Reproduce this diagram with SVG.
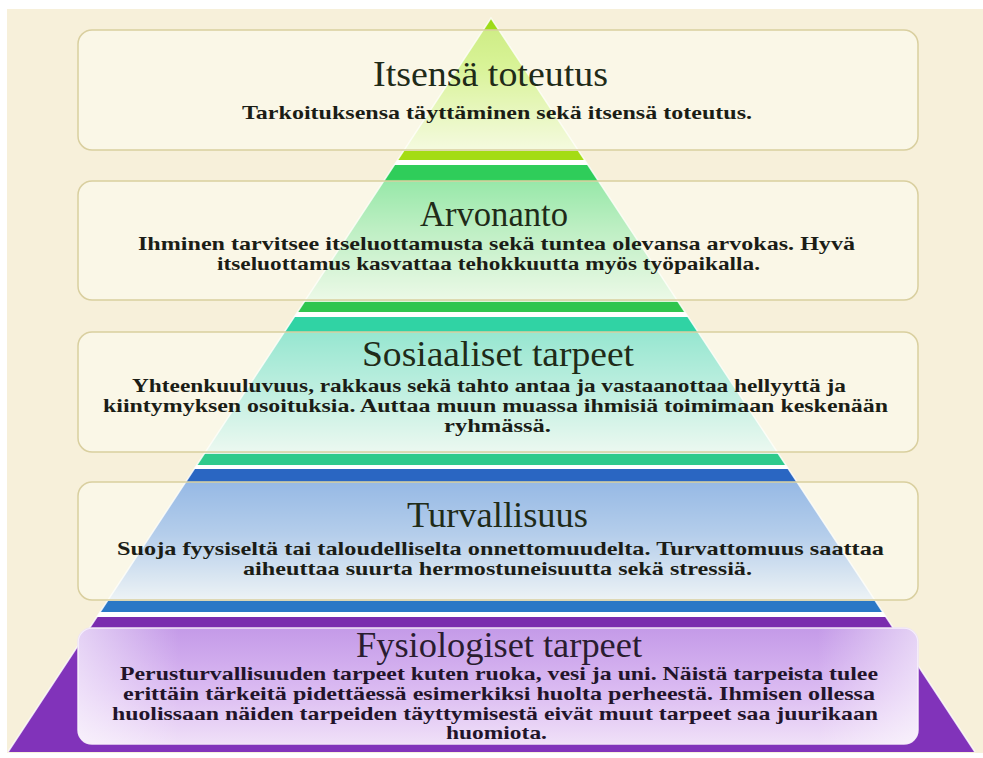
<svg xmlns="http://www.w3.org/2000/svg" width="983" height="758" viewBox="0 0 983 758">
  <defs>
    <style>
      .box { stroke: #d9cf9f; stroke-width: 1.5; fill: #fdfdf4; fill-opacity: 0.5; }
      .title { font-family: "Liberation Serif", "DejaVu Serif", serif; font-size: 35px; fill: #1f2b18; }
      .body { font-family: "Liberation Serif", "DejaVu Serif", serif; font-size: 19.5px; font-weight: bold; fill: #1b1d16; }
    </style>
    <clipPath id="tri">
      <polygon points="491,18 8,752 975,752"/>
    </clipPath>
    <linearGradient id="g1" x1="0" y1="18" x2="0" y2="151" gradientUnits="userSpaceOnUse">
      <stop offset="0" stop-color="#9ad810"/>
      <stop offset="0.35" stop-color="#b2e838"/>
      <stop offset="1" stop-color="#ecf7cc"/>
    </linearGradient>
    <linearGradient id="g2" x1="0" y1="179" x2="0" y2="302" gradientUnits="userSpaceOnUse">
      <stop offset="0" stop-color="#2ed25c"/>
      <stop offset="0.4" stop-color="#7ce092"/>
      <stop offset="1" stop-color="#dcf5dc"/>
    </linearGradient>
    <linearGradient id="g3" x1="0" y1="331" x2="0" y2="454" gradientUnits="userSpaceOnUse">
      <stop offset="0" stop-color="#2ecfac"/>
      <stop offset="0.45" stop-color="#7adfca"/>
      <stop offset="1" stop-color="#dcf4ee"/>
    </linearGradient>
    <linearGradient id="g4" x1="0" y1="481" x2="0" y2="601" gradientUnits="userSpaceOnUse">
      <stop offset="0" stop-color="#2e74d6"/>
      <stop offset="0.45" stop-color="#6c9ee2"/>
      <stop offset="1" stop-color="#dee9f7"/>
    </linearGradient>
    <linearGradient id="g5" x1="0" y1="628" x2="0" y2="744" gradientUnits="userSpaceOnUse">
      <stop offset="0" stop-color="#c49ae8"/>
      <stop offset="0.5" stop-color="#d9b8f1"/>
      <stop offset="1" stop-color="#f0e0f8"/>
    </linearGradient>
    <linearGradient id="g5side" x1="78" y1="0" x2="918" y2="0" gradientUnits="userSpaceOnUse">
      <stop offset="0" stop-color="#ffffff" stop-opacity="0.55"/>
      <stop offset="0.12" stop-color="#ffffff" stop-opacity="0"/>
      <stop offset="0.88" stop-color="#ffffff" stop-opacity="0"/>
      <stop offset="1" stop-color="#ffffff" stop-opacity="0.55"/>
    </linearGradient>
  </defs>

  <!-- backdrop -->
  <rect x="0" y="0" width="983" height="758" fill="#ffffff"/>
  <rect x="7" y="9" width="976" height="744" fill="#f7f0da"/>

  <!-- pyramid bands -->
  <g id="pyramid" clip-path="url(#tri)">
    <rect x="0" y="0" width="983" height="758" fill="#ffffff"/>
    <rect x="0" y="18" width="983" height="133" fill="url(#g1)"/>
    <rect x="0" y="151" width="983" height="9" fill="#a4dc14"/>
    <rect x="0" y="165" width="983" height="14" fill="#2fcd5a"/>
    <rect x="0" y="179" width="983" height="123" fill="url(#g2)"/>
    <rect x="0" y="302" width="983" height="10" fill="#2fc54f"/>
    <rect x="0" y="317" width="983" height="14" fill="#30d3a4"/>
    <rect x="0" y="331" width="983" height="123" fill="url(#g3)"/>
    <rect x="0" y="454" width="983" height="11" fill="#2fca8c"/>
    <rect x="0" y="469" width="983" height="12" fill="#2a66c2"/>
    <rect x="0" y="481" width="983" height="120" fill="url(#g4)"/>
    <rect x="0" y="601" width="983" height="11" fill="#2a78c6"/>
    <rect x="0" y="617" width="983" height="11" fill="#7a2cae"/>
    <rect x="0" y="628" width="983" height="125" fill="#8133ba"/>
  </g>
  <polyline points="8,752 491,18 975,752" fill="none" stroke="#ffffff" stroke-width="1.5" stroke-opacity="0.8"/>

  <!-- level 5: top -->
  <g id="itsensa-toteutus">
    <rect class="box" x="78" y="30" width="840" height="120" rx="14"/>
    <text class="title" x="373" y="86" textLength="235" lengthAdjust="spacingAndGlyphs">Itsensä toteutus</text>
    <text class="body" x="242" y="119" textLength="510" lengthAdjust="spacingAndGlyphs">Tarkoituksensa täyttäminen sekä itsensä toteutus.</text>
  </g>

  <!-- level 4 -->
  <g id="arvonanto">
    <rect class="box" x="78" y="181" width="840" height="119" rx="14"/>
    <text class="title" x="420" y="226" textLength="148" lengthAdjust="spacingAndGlyphs">Arvonanto</text>
    <text class="body" x="138" y="250" textLength="717" lengthAdjust="spacingAndGlyphs">Ihminen tarvitsee itseluottamusta sekä tuntea olevansa arvokas. Hyvä</text>
    <text class="body" x="217" y="270" textLength="543" lengthAdjust="spacingAndGlyphs">itseluottamus kasvattaa tehokkuutta myös työpaikalla.</text>
  </g>

  <!-- level 3 -->
  <g id="sosiaaliset-tarpeet">
    <rect class="box" x="78" y="332" width="840" height="120" rx="14"/>
    <text class="title" x="362" y="366" textLength="272" lengthAdjust="spacingAndGlyphs">Sosiaaliset tarpeet</text>
    <text class="body" x="132" y="392" textLength="714" lengthAdjust="spacingAndGlyphs">Yhteenkuuluvuus, rakkaus sekä tahto antaa ja vastaanottaa hellyyttä ja</text>
    <text class="body" x="103" y="412" textLength="785" lengthAdjust="spacingAndGlyphs">kiintymyksen osoituksia. Auttaa muun muassa ihmisiä toimimaan keskenään</text>
    <text class="body" x="444" y="432" textLength="107" lengthAdjust="spacingAndGlyphs">ryhmässä.</text>
  </g>

  <!-- level 2 -->
  <g id="turvallisuus">
    <rect class="box" x="78" y="482" width="840" height="118" rx="14"/>
    <text class="title" x="407" y="527" textLength="181" lengthAdjust="spacingAndGlyphs">Turvallisuus</text>
    <text class="body" x="117" y="555" textLength="767" lengthAdjust="spacingAndGlyphs">Suoja fyysiseltä tai taloudelliselta onnettomuudelta. Turvattomuus saattaa</text>
    <text class="body" x="243" y="575" textLength="509" lengthAdjust="spacingAndGlyphs">aiheuttaa suurta hermostuneisuutta sekä stressiä.</text>
  </g>

  <!-- level 1: base -->
  <g id="fysiologiset-tarpeet">
    <rect x="78" y="628" width="840" height="116" rx="14" fill="url(#g5)" stroke="#efe3f6" stroke-width="1.5"/>
    <rect x="78" y="628" width="840" height="116" rx="14" fill="url(#g5side)"/>
    <text class="title" x="356" y="657" textLength="286" lengthAdjust="spacingAndGlyphs" style="fill:#2a1c30">Fysiologiset tarpeet</text>
    <text class="body" x="120" y="680" textLength="758" lengthAdjust="spacingAndGlyphs" style="fill:#22142a">Perusturvallisuuden tarpeet kuten ruoka, vesi ja uni. Näistä tarpeista tulee</text>
    <text class="body" x="123" y="700" textLength="752" lengthAdjust="spacingAndGlyphs" style="fill:#22142a">erittäin tärkeitä pidettäessä esimerkiksi huolta perheestä. Ihmisen ollessa</text>
    <text class="body" x="112" y="720" textLength="766" lengthAdjust="spacingAndGlyphs" style="fill:#22142a">huolissaan näiden tarpeiden täyttymisestä eivät muut tarpeet saa juurikaan</text>
    <text class="body" x="446" y="739" textLength="101" lengthAdjust="spacingAndGlyphs" style="fill:#22142a">huomiota.</text>
  </g>
</svg>
